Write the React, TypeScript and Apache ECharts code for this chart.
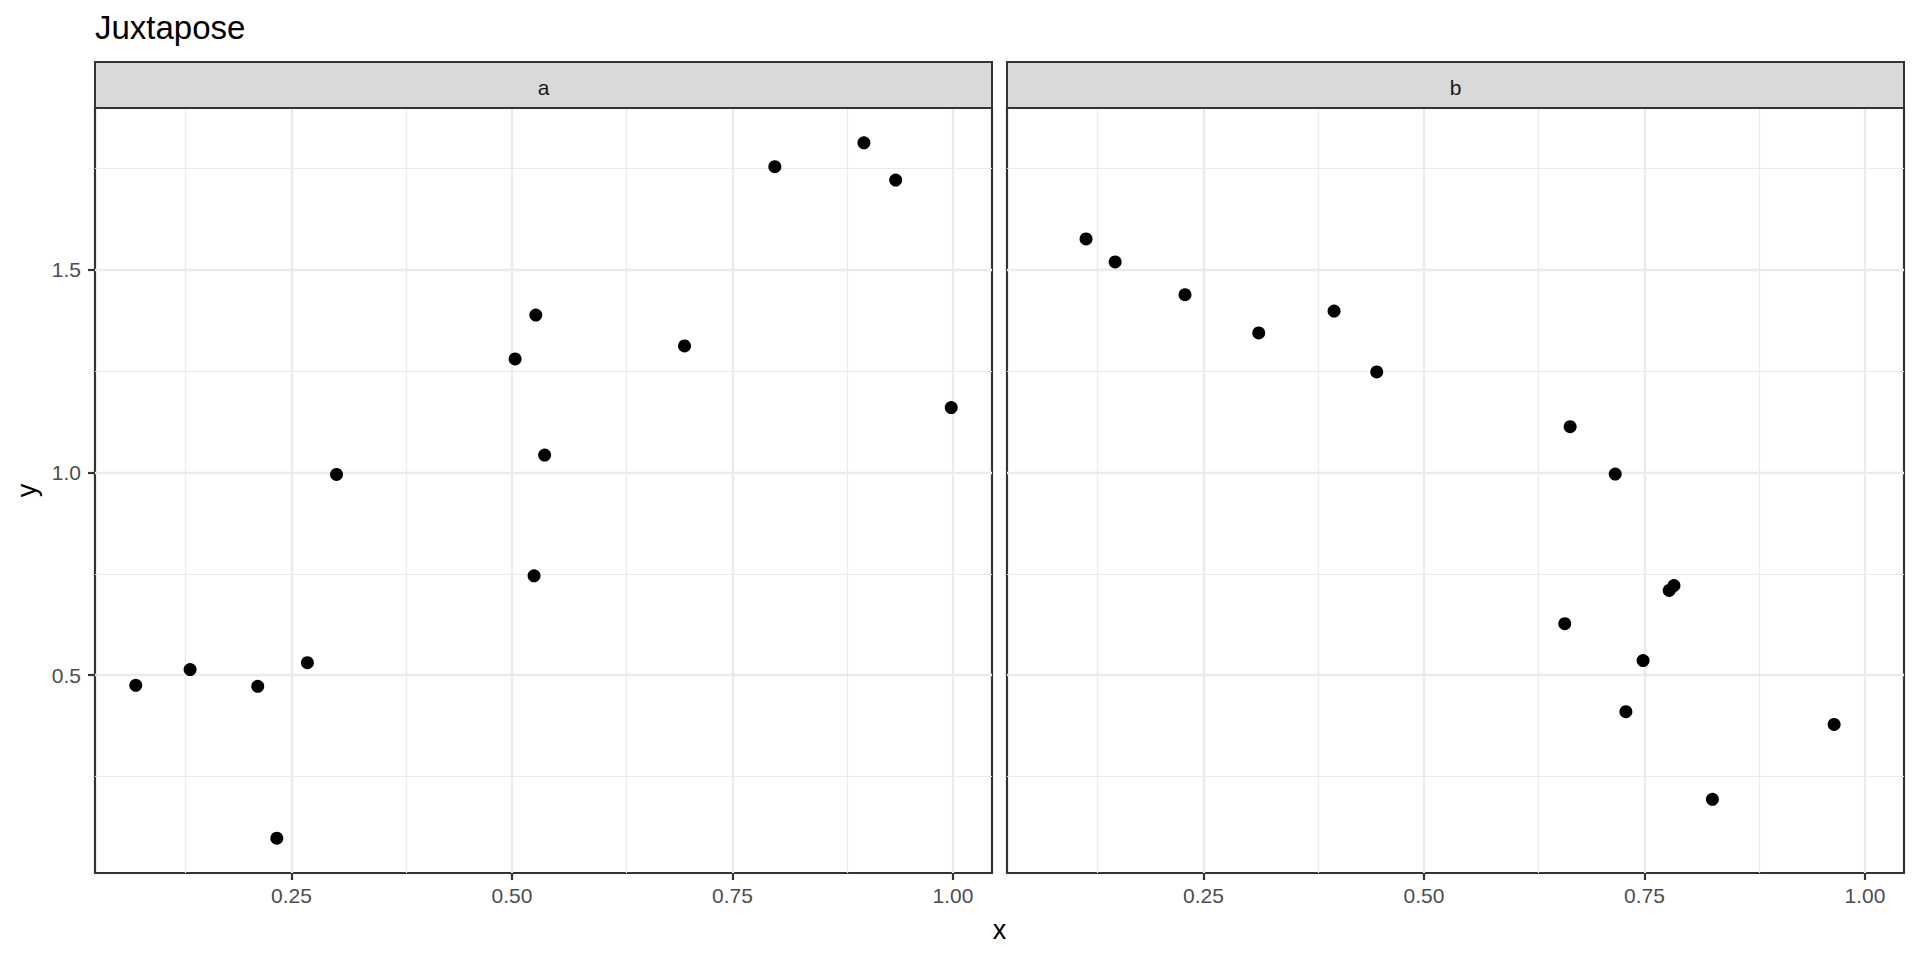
import React, { useEffect, useRef } from "react";
import * as echarts from "echarts";

const panelNames = ["a", "b"];
const xA = [0.0734, 0.135, 0.2117, 0.2333, 0.268, 0.301, 0.5035, 0.527, 0.537, 0.525, 0.6956, 0.798, 0.899, 0.935, 0.998];
const yA = [0.475, 0.514, 0.4725, 0.098, 0.531, 0.995, 1.28, 1.388, 1.043, 0.745, 1.312, 1.754, 1.813, 1.721, 1.16];
const xB = [0.1168, 0.1498, 0.229, 0.3126, 0.398, 0.4464, 0.6657, 0.7168, 0.778, 0.7834, 0.6596, 0.7484, 0.7289, 0.965, 0.827];
const yB = [1.576, 1.519, 1.4385, 1.344, 1.398, 1.248, 1.113, 0.996, 0.709, 0.721, 0.627, 0.536, 0.41, 0.3785, 0.194];
const xMajor = [0.25, 0.5, 0.75, 1.0];
const xMinor = [0.125, 0.375, 0.625, 0.875];
const yMajor = [0.5, 1.0, 1.5];
const yMinor = [0.25, 0.75, 1.25, 1.75];
const titleText = "Juxtapose";
const xTitle = "x";
const yTitle = "y";

const FONT = "'Liberation Sans', Arial, sans-serif";

export default function App() {
  const ref = useRef<HTMLDivElement>(null);
  useEffect(() => {
    if (!ref.current) return;
    const chart = echarts.init(ref.current, null, { renderer: "svg" });

    const allX = [...xA, ...xB];
    const allY = [...yA, ...yB];
    const xMin0 = Math.min(...allX), xMax0 = Math.max(...allX);
    const yMin0 = Math.min(...allY), yMax0 = Math.max(...allY);
    const xPad = (xMax0 - xMin0) * 0.05;
    const yPad = (yMax0 - yMin0) * 0.05;
    const xMin = xMin0 - xPad, xMax = xMax0 + xPad;
    const yMin = yMin0 - yPad, yMax = yMax0 + yPad;

    const gridTop = 108, gridH = 765, gridW = 897;
    const lefts = [95, 1007];

    const gridLines = () => [
      ...xMinor.map((v) => ({ xAxis: v, lineStyle: { color: "#EBEBEB", width: 1.2, type: "solid" } })),
      ...yMinor.map((v) => ({ yAxis: v, lineStyle: { color: "#EBEBEB", width: 1.2, type: "solid" } })),
      ...xMajor.map((v) => ({ xAxis: v, lineStyle: { color: "#EBEBEB", width: 2.3, type: "solid" } })),
      ...yMajor.map((v) => ({ yAxis: v, lineStyle: { color: "#EBEBEB", width: 2.3, type: "solid" } })),
    ];

    const datasets = [
      xA.map((x, i) => [x, yA[i]]),
      xB.map((x, i) => [x, yB[i]]),
    ];

    const graphics: any[] = [];
    panelNames.forEach((name, i) => {
      graphics.push({
        type: "rect",
        shape: { x: lefts[i], y: 62, width: gridW, height: gridTop - 62 },
        style: { fill: "#D9D9D9", stroke: "#333333", lineWidth: 2 },
        z: 10,
      });
      graphics.push({
        type: "text",
        x: lefts[i] + gridW / 2,
        y: 87.5,
        style: {
          text: name,
          fill: "#1A1A1A",
          font: `21px ${FONT}`,
          textAlign: "center",
          textVerticalAlign: "middle",
        },
        z: 11,
      });
    });
    graphics.push({
      type: "text",
      x: (lefts[0] + lefts[1] + gridW) / 2,
      y: 929.5,
      style: { text: xTitle, fill: "#000000", font: `27px ${FONT}`, textAlign: "center", textVerticalAlign: "middle" },
    });
    graphics.push({
      type: "text",
      x: 26.5,
      y: gridTop + gridH / 2,
      rotation: Math.PI / 2,
      style: { text: yTitle, fill: "#000000", font: `27px ${FONT}`, textAlign: "center", textVerticalAlign: "middle" },
    });

    const option: any = {
      animation: false,
      backgroundColor: "#FFFFFF",
      textStyle: { fontFamily: FONT },
      title: {
        text: titleText,
        left: 95,
        top: 11,
        padding: 0,
        textStyle: { fontSize: 33, fontWeight: "normal", color: "#000000", fontFamily: FONT },
      },
      grid: lefts.map((l) => ({
        left: l,
        top: gridTop,
        width: gridW,
        height: gridH,
        show: true,
        backgroundColor: "#FFFFFF",
        borderColor: "#333333",
        borderWidth: 2.2,
        containLabel: false,
      })),
      xAxis: lefts.map((_, i) => ({
        type: "value",
        gridIndex: i,
        min: xMin,
        max: xMax,
        axisLine: { show: false },
        splitLine: { show: false },
        axisTick: {
          show: true,
          length: 7,
          lineStyle: { color: "#333333", width: 2.2 },
          customValues: xMajor,
        },
        axisLabel: {
          show: true,
          customValues: xMajor,
          formatter: (v: number) => v.toFixed(2),
          color: "#4D4D4D",
          fontSize: 21,
          fontFamily: FONT,
          margin: 12,
        },
      })),
      yAxis: lefts.map((_, i) => ({
        type: "value",
        gridIndex: i,
        min: yMin,
        max: yMax,
        axisLine: { show: false },
        splitLine: { show: false },
        axisTick: {
          show: i === 0,
          length: 7,
          lineStyle: { color: "#333333", width: 2.2 },
          customValues: yMajor,
        },
        axisLabel: {
          show: i === 0,
          customValues: yMajor,
          formatter: (v: number) => v.toFixed(1),
          color: "#4D4D4D",
          fontSize: 21,
          fontFamily: FONT,
          margin: 14,
        },
      })),
      series: datasets.map((d, i) => ({
        type: "scatter",
        xAxisIndex: i,
        yAxisIndex: i,
        data: d,
        symbol: "circle",
        symbolSize: 13,
        itemStyle: { color: "#000000", opacity: 1 },
        z: 3,
        markLine: {
          silent: true,
          symbol: "none",
          z: 1,
          label: { show: false },
          emphasis: { disabled: true },
          data: gridLines(),
        },
      })),
      graphic: graphics,
    };

    chart.setOption(option);
    return () => chart.dispose();
  }, []);

  return (
    <div
      ref={ref}
      style={{ position: "fixed", left: 0, top: 0, width: 1920, height: 960, background: "#fff" }}
    />
  );
}
